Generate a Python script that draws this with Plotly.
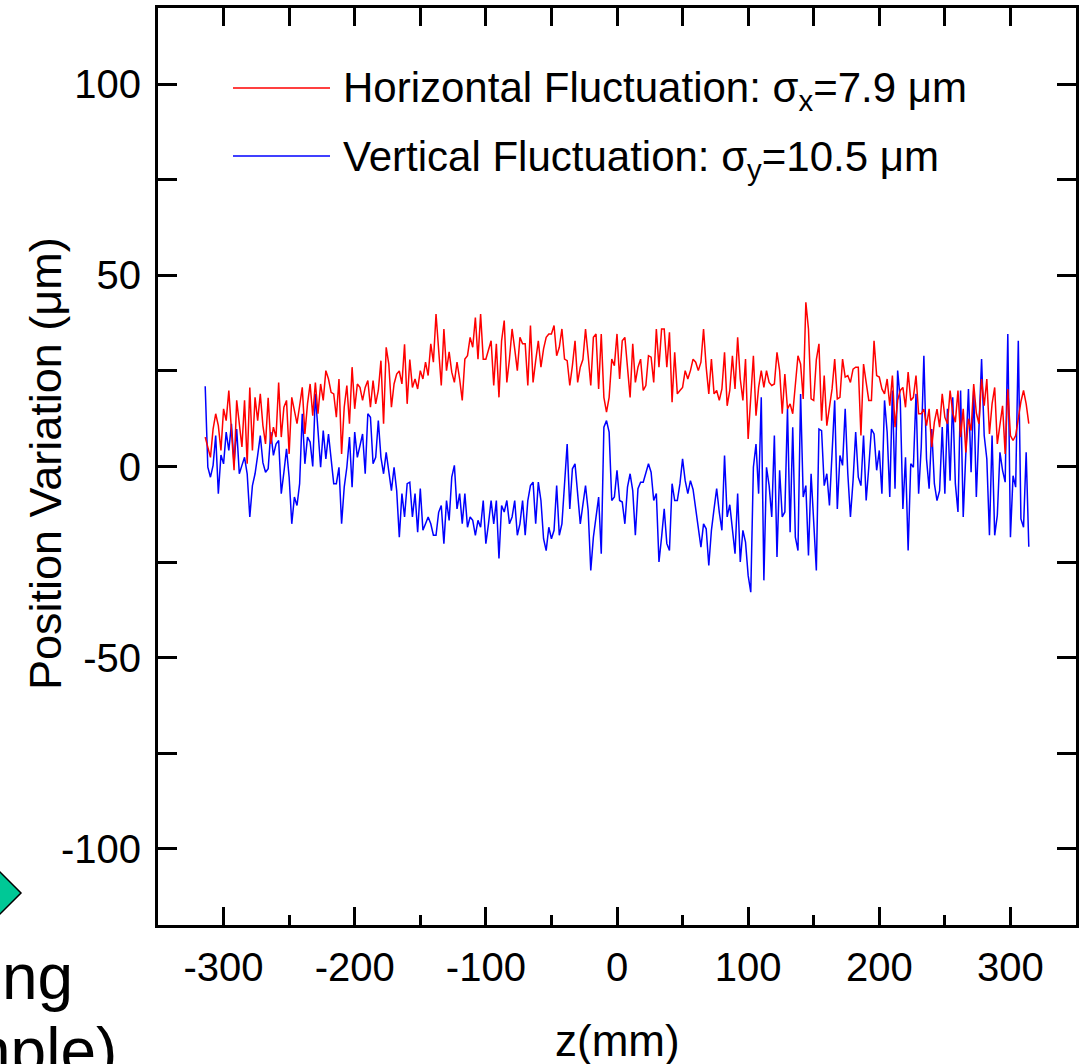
import plotly.graph_objects as go

# ---------------- data ----------------
SERIES_NAMES = ["Horizontal Fluctuation", "Vertical Fluctuation"]
LEGEND_TEXT = ["Horizontal Fluctuation: σ<sub>x</sub>=7.9 μm",
               "Vertical Fluctuation: σ<sub>y</sub>=10.5 μm"]
Z_START = -314   # mm, first sample position
Z_STEP = 2       # mm, sample spacing

horizontal = [
    7.7, 5, 2.4, 9.8, 13.8, 10.7, 4.2, 15.1, 12, 19.9, 9.4, -1, 17.3, 10.7, 5.1, 17.3, 0.7, 20.7, 4.2, 18.1,
    12, 19, 10.7, 5.9, 18, 5.9, 10.3, 7.7, 22, 7.7, 15.5, 17.3, 3.3, 18.1, 14.6, 11.2, 15.9, 20.7, 8.5, 16.4,
    21.6, 13.3, 22, 13.8, 21.6, 17.3, 25.1, 22.9, 19.4, 19, 12.9, 22.9, 3.3, 15.5, 21.2, 11.2, 26, 15.1, 21.6, 20.7,
    17.3, 20.7, 22.5, 15.5, 22.5, 16.4, 19.9, 27.7, 11.2, 31.2, 26.8, 15.5, 21.6, 24.2, 25, 21.6, 32, 16.4,
    28, 20.7, 22.9, 20.3, 25.1, 22.9, 27.3, 23.8, 32.1, 27.3, 39.9, 30.3, 21.2, 36, 25.1, 30, 24.7, 22, 27.3, 22.9,
    17.3, 28.1, 29, 33.8, 31.2, 39, 28.1, 39.9, 28.1, 28.1, 30.8, 32.9, 21.2, 32.1, 18.1, 32.9, 38.2, 22, 28.1, 36,
    30.8, 25.1, 33.8, 32.1, 32.1, 21.2, 36.9, 22, 27.7, 32.9, 26, 30.8, 33.8, 34.7, 34.7, 36.9, 29, 31.2, 36, 28.1,
    27.7, 21.2, 26.4, 32.9, 22, 26, 28, 36, 29, 21.2, 33.8, 34.7, 20.3, 34.7, 18.1, 14.2, 18.1, 28.1, 26.4,
    34.7, 22.9, 32.9, 33.8, 25.1, 18.1, 32.1, 22, 26, 28.1, 19.9, 21.2, 29, 28.6, 22, 36, 26, 36, 36, 26,
    35.1, 16.8, 29.9, 19, 19.9, 20.7, 25.1, 22.9, 25.1, 28.1, 27.3, 25.1, 27.3, 36, 26, 19, 28.1, 19, 19.9, 17.3,
    20.3, 29.9, 15.9, 19.9, 29, 20.3, 33.8, 22.9, 17.3, 28.1, 7.2, 18.1, 29, 13.3, 20.7, 25.1, 20.7, 25.1, 22, 21.2,
    21.6, 29.9, 25.1, 13.8, 24.2, 15.1, 16.4, 13.8, 22, 29, 26.8, 17.7, 43, 36, 17.7, 17.3, 28, 32.1,
    12, 23.8, 10.7, 15.5, 20.3, 28.1, 17.7, 18.1, 28.1, 23.4, 23.8, 22, 25.5, 26, 26, 8.1, 26.8, 22, 17.3, 17.3,
    32.9, 23.8, 23.4, 20.3, 19, 22.9, 15.9, 23.8, 10.3, 17.3, 19.9, 20.7, 15.5, 24.7, 17.3, 18.1, 23.8, 13.8, 13.8, 15,
    10.7, 15.1, 5.1, 11.6, 15, 10.3, 19, 12.9, 11.2, 19.9, 14, 11.6, 19.9, 7.7, 15.1, 3.7, 12.5, 9.4, 21.6, 14,
    11.2, 22.9, 15.9, 22.9, 8.5, 16.4, 20.7, 5.9, 10.3, 15.9, 3.3, 20.3, 8.1, 6.8, 8.1, 13, 17, 19.9, 16.4, 11.2,
]

vertical = [
    21, -0.2, -2.8, 0.3, 8.1, -7.1, 3, 0.7, 9, 4.2, 11.2, 0.7, 9.8, -1.9, 0.3, 2.4, -1.9, -13.2, -5, -1.9,
    2.9, 8.1, 1, -1.5, -0.6, 9, 2.9, 5.9, 6.8, -7.1, -1.5, 4.6, -2.8, -15, -8, -10.2, -4.5, 13.8, 0.7, 7.7,
    6.4, 0, 19, 9.4, -0.2, 9.4, 2, 8.5, 2.4, -4.5, -4.5, -0.2, -15, -5.4, -0.2, 7.7, -5.4, 9, 2.4, 5.9,
    8.5, -1.9, 13.8, 12.9, 0.7, 2.4, 12, 2.4, -1.9, 3.7, -1, -6.3, -0.2, -6.3, -18.5, -7.1, -13.2, -4.5,
    -4.1, -13.2, -7.1, -17.2, -5.8, -16.7, -15, -13.2, -15, -18, -18, -12, -10.2, -20.2, -8.9, -14.1, -2.8, 0.3, -11.1, -7.1,
    -15, -7.1, -15.9, -13.2, -14.1, -18, -14.1, -15.9, -8.9, -20.2, -15, -8.9, -15, -8.9, -24.1, -10.2, -11.9, -8.9, -15, -13.2,
    -8.9, -18, -15, -8.9, -18, -8.9, -5, -4.1, -15, -4.1, -8.9, -18.9, -22, -15.9, -18.9, -16.7, -5, -18, -15, -4.1,
    5.9, -11.1, -0.6, 0.7, -7.1, -15, -10, -5, -11.5, -27.2, -18.5, -13.2, -8, -22.8, 10.3, 12, 9, -8.9, -8,
    -1, -8.9, -9.3, -15, -5.4, -1.9, -6.3, -18, -5.8, -4.1, -4.1, -1.9, 0.7, -1.5, -8.9, -7.1, -25, -18.5, -11.1, -20.2,
    -22, -4.5, -8.9, -8.9, -4.5, 2, -3.7, -7.1, -3.7, -6, -11, -15, -21.1, -15, -16.3, -25.9, -16.7, -11.1, -5.8, -12,
    -16.7, 2.9, -13.2, -10, -17.2, -22.8, -7.1, -25, -16.7, -19.8, -28.5, -32.9, -0.2, 5.9, -7.1, 18.1, -29.8, -0.2, -5, -13.2,
    8.1, -23.7, -1, -13.2, -11.9, 15.1, -17.2, 10.3, -18.5, -22, 19, -8, -5, -23.3, -1.9, -15, -27.2, 9.8,
    9.4, -5, -1.9, -10.2, 5.1, 17.3, -11.1, 2.9, 0.3, 15.1, -1.9, -13.2, -3.7, 9, -2.8, -5, 8.1, -8.9, -0.2, 9.8,
    8.5, -1, 4.2, -7.1, 17.3, 9, -8, 19.9, -5.8, 25.1, 17.3, -11.1, 2.4, -22, 0.7, -0.2, 19, -7.1, 5.1, 29,
    2, -5.8, 9.8, -4.5, -8.9, -6.3, 10.3, -7.1, 15.1, -3.7, 18.1, -4.5, -11.9, 19.9, -13.2, 5.1, 20.3, -1.5, 19.9, -8,
    10, 28.1, 8.1, 2, -18, 8.1, -18, -12.8, 3.7, -1, -4.1, 34.7, -18.5, -2.4, -5.4, 32.9, -13.7, -15.9, 3.7, -21,
]

X_TICKS = [-300, -200, -100, 0, 100, 200, 300]
Y_TICKS = [-100, -50, 0, 50, 100]
X_RANGE = [-350, 350]
Y_RANGE = [-120, 120]

z_h = [Z_START + Z_STEP * i for i in range(len(horizontal))]
z_v = [Z_START + Z_STEP * i for i in range(len(vertical))]

# ---------------- layout geometry (pixels) ----------------
W, H = 1079, 1064
L, R, T, B = 158, 1076, 8, 925
FONT = "Arial, 'Liberation Sans', sans-serif"


def px(x):
    return (x - L) / (R - L)


def py(y):
    return (B - y) / (B - T)


RED = "#FF0000"
BLUE = "#0000FF"

fig = go.Figure()
fig.add_trace(go.Scatter(x=z_v, y=vertical, mode="lines", name=SERIES_NAMES[1],
                         line=dict(color=BLUE, width=1.5), showlegend=False))
# the red trace sits on the (identical) top x axis so that its ticks get drawn
fig.add_trace(go.Scatter(x=z_h, y=horizontal, mode="lines", name=SERIES_NAMES[0],
                         xaxis="x2", yaxis="y",
                         line=dict(color=RED, width=1.5), showlegend=False))

tick_common = dict(showgrid=False, zeroline=False, tickcolor="black", tickwidth=3, ticks="inside")

fig.update_layout(
    width=W, height=H,
    margin=dict(l=L, r=W - R, t=T, b=H - B, autoexpand=False),
    paper_bgcolor="white", plot_bgcolor="white",
    font=dict(family=FONT, color="black", size=40),
    xaxis=dict(range=X_RANGE, tickmode="array", tickvals=X_TICKS,
               ticktext=[str(v) for v in X_TICKS], ticklen=18,
               showline=True, mirror=True, linecolor="black", linewidth=3,
               tickfont=dict(size=40, family=FONT), ticklabelstandoff=5,
               minor=dict(dtick=50, tick0=-350, ticklen=10, tickwidth=3, tickcolor="black",
                          ticks="inside", showgrid=False),
               **tick_common),
    xaxis2=dict(range=X_RANGE, overlaying="x", side="top", tickmode="linear", tick0=-350, dtick=50,
                ticklen=18, showticklabels=False, showline=False, **tick_common),
    yaxis=dict(range=Y_RANGE, tickmode="array", tickvals=Y_TICKS,
               ticktext=[str(v) for v in Y_TICKS], ticklen=19,
               showline=True, mirror="ticks", linecolor="black", linewidth=3,
               tickfont=dict(size=40, family=FONT), ticklabelstandoff=6,
               minor=dict(dtick=25, tick0=0, ticklen=19, tickwidth=3, tickcolor="black",
                          ticks="inside", showgrid=False),
               **tick_common),
)

# legend drawn as line samples + text
shapes = []
annotations = []
for i, (ypix, col) in enumerate([(88, RED), (156, BLUE)]):
    shapes.append(dict(type="line", xref="paper", yref="paper",
                       x0=px(233), x1=px(330), y0=py(ypix), y1=py(ypix),
                       line=dict(color=col, width=1.5)))
    annotations.append(dict(xref="paper", yref="paper", x=px(341), y=py(ypix + 3),
                            xanchor="left", yanchor="middle", showarrow=False,
                            text=LEGEND_TEXT[i], font=dict(size=42, family=FONT)))

# axis titles
annotations.append(dict(xref="paper", yref="paper", x=px(617), y=py(1040),
                        xanchor="center", yanchor="middle", showarrow=False,
                        text="z(mm)", font=dict(size=44, family=FONT)))
annotations.append(dict(xref="paper", yref="paper", x=px(45), y=py(464),
                        xanchor="center", yanchor="middle", showarrow=False, textangle=-90,
                        text="Position Variation (μm)", font=dict(size=45, family=FONT)))

# fragments of the neighbouring panel visible at the lower-left edge
annotations.append(dict(xref="paper", yref="paper", x=px(75), y=py(977),
                        xanchor="right", yanchor="middle", showarrow=False,
                        text="ng", font=dict(size=64, family=FONT)))
annotations.append(dict(xref="paper", yref="paper", x=px(119), y=py(1051),
                        xanchor="right", yanchor="middle", showarrow=False,
                        text="nple)", font=dict(size=64, family=FONT)))
shapes.append(dict(type="path", xref="paper", yref="paper",
                   path=f"M {px(-21)},{py(893)} L {px(0)},{py(872)} L {px(21)},{py(893)} L {px(0)},{py(914)} Z",
                   fillcolor="#00C896", line=dict(color="black", width=1.5)))

fig.update_layout(shapes=shapes, annotations=annotations)

fig.write_html("out.html")
